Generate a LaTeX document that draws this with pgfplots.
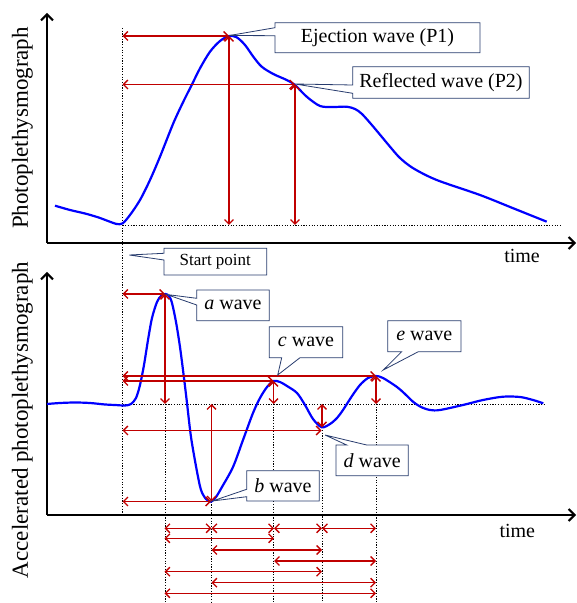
\documentclass[border=0pt]{standalone}
\usepackage{pgfplots}
\pgfplotsset{compat=1.18}
\usepackage{fontspec}
\setmainfont{Liberation Serif}
\usetikzlibrary{arrows.meta}
\definecolor{redarr}{RGB}{192,0,0}
\definecolor{boxblue}{RGB}{40,60,110}
\definecolor{curveblue}{RGB}{0,0,255}
\begin{document}
\begin{tikzpicture}[
  redA/.style={draw=redarr, line width=1.3pt, {Straight Barb[length=4.5pt,width=9pt]}-{Straight Barb[length=4.5pt,width=9pt]}},
  dotl/.style={black, line width=0.9pt, dash pattern=on 1.2pt off 1.5pt},
  callout/.style={draw=boxblue, fill=white, line width=0.8pt},
  btext/.style={font=\fontsize{20}{24}\selectfont, inner sep=0pt},
  ]
\useasboundingbox (0,0) rectangle (577pt,603pt);

% ---------------- top panel ----------------
\begin{axis}[
  at={(47pt,360pt)}, anchor=south west,
  x=1pt, y=1pt, xmin=47, xmax=576, ymin=360, ymax=590,
  axis lines=left, enlargelimits=false,
  xtick=\empty, ytick=\empty, clip=false,
  axis line style={line width=2pt},
  x axis line style={-{Straight Barb[length=6pt,width=12pt]}},
  y axis line style={-{Straight Barb[length=6pt,width=12pt]}},
  xlabel={time},
  xlabel style={at={(axis description cs:0.898,-0.0565)}, anchor=center, inner sep=0pt, font=\fontsize{20}{24}\selectfont},
  ylabel={Photoplethysmograph},
  ylabel style={at={(axis description cs:-0.0265,0.5)}, anchor=south, inner sep=0pt, font=\fontsize{23}{27}\selectfont},
]
% dotted reference lines
\addplot[dotl] coordinates {(122.5,378) (560,378)};
\addplot[dotl] coordinates {(122.5,575) (122.5,88)};
% PPG curve
\addplot[curveblue, line width=2.2pt, smooth, tension=0.5] coordinates {
(55,397.3) (70,393) (85,389.5) (98,385.7) (108,382) (116.7,379) (122.7,379.7)
(130,388) (140,403) (150,423) (160,446.3) (173.3,479.7) (183.3,501.3) (191.7,518)
(200,534.7) (210,551.3) (220,562) (229,567) (236.7,565.7) (245,558) (253.3,546.3)
(261.7,536.3) (273.3,529) (286.7,523) (295,518) (306.7,506.3) (320,497) (333,496)
(346.7,496.3) (355,494) (362,489) (373.3,476.3) (390,456.3) (400,445) (413.3,434.7)
(436.7,423) (480,408) (513.3,394.7) (546.7,381.3)};
% red arrows
\addplot[redA] coordinates {(122.5,567) (229,567)};
\addplot[redA] coordinates {(229,567) (229,378)};
\addplot[redA] coordinates {(122.5,518.5) (295,518.5)};
\addplot[redA] coordinates {(295,518.5) (295,378)};
% callouts
\draw[callout] (axis cs:275,580.3) -- (axis cs:480,580.3) -- (axis cs:480,550.3) -- (axis cs:275,550.3) -- (axis cs:275,567.3) -- (axis cs:229.5,567.5) -- (axis cs:275,575.3) -- cycle;
\node[btext] at (axis cs:377.5,565.3) {Ejection wave (P1)};
\draw[callout] (axis cs:352.7,536.3) -- (axis cs:529.3,536.3) -- (axis cs:529.3,504.7) -- (axis cs:352.7,504.7) -- (axis cs:352.7,509.7) -- (axis cs:295,519) -- (axis cs:352.7,518) -- cycle;
\node[btext] at (axis cs:441,520.5) {Reflected wave (P2)};
\draw[callout] (axis cs:164,354.7) -- (axis cs:266.7,354.7) -- (axis cs:266.7,328) -- (axis cs:164,328) -- (axis cs:164,343) -- (axis cs:129.3,348) -- (axis cs:164,349.7) -- cycle;
\node[font=\fontsize{17}{20}\selectfont, inner sep=0pt] at (axis cs:215.3,341.3) {Start point};
\end{axis}

% ---------------- bottom panel ----------------
\begin{axis}[
  at={(47pt,88pt)}, anchor=south west,
  x=1pt, y=1pt, xmin=47, xmax=576, ymin=88, ymax=331,
  axis lines=left, enlargelimits=false,
  xtick=\empty, ytick=\empty, clip=false,
  axis line style={line width=2pt},
  x axis line style={-{Straight Barb[length=6pt,width=12pt]}},
  y axis line style={-{Straight Barb[length=6pt,width=12pt]}},
  xlabel={time},
  xlabel style={at={(axis description cs:0.889,-0.0638)}, anchor=center, inner sep=0pt, font=\fontsize{20}{24}\selectfont},
  ylabel={Accelerated photoplethysmograph},
  ylabel style={at={(axis description cs:-0.0265,0.391)}, anchor=south, inner sep=0pt, font=\fontsize{23}{27}\selectfont},
]
% dotted reference lines
\addplot[dotl] coordinates {(122.5,199) (545,199)};
\addplot[dotl] coordinates {(165,199) (165,0)};
\addplot[dotl] coordinates {(211.5,101.3) (211.5,0)};
\addplot[dotl] coordinates {(273.5,199) (273.5,0)};
\addplot[dotl] coordinates {(322,175.7) (322,0)};
\addplot[dotl] coordinates {(376,199) (376,0)};
% APG curve
\addplot[curveblue, line width=2.2pt, smooth, tension=0.5] coordinates {
(47,199) (60,200) (75,200.5) (90,200) (105,198.5) (115,198) (125,197.5) (131,199)
(136,205) (140,218) (144,238) (148,263) (152,285) (157,301) (161,307) (165.3,309)
(169,307) (172,300) (176,281) (180,256) (184,225) (187,200) (191,166) (196.7,133)
(201,113) (206,104) (211,101.3) (216,106) (222,116) (233,136) (243,163) (253,190)
(260,205) (267,216) (273.5,222) (280,221) (287,217) (297,210) (305,198) (313,184)
(321.7,175.7) (330,179) (337,185) (343,193) (352,207) (360,218) (368,225) (375.7,227)
(383,225) (397,216) (405,209) (413,201.3) (421,196) (430,193) (440,193) (463,198)
(483,203) (503,206.3) (520,206) (533,203) (543.3,199.7)};
% red arrows in the panel
\addplot[redA] coordinates {(122.5,309) (165,309)};
\addplot[redA] coordinates {(165,309) (165,199)};
\addplot[redA] coordinates {(122.5,227) (376,227)};
\addplot[redA] coordinates {(122.5,222) (273.5,222)};
\addplot[redA] coordinates {(122.5,172.5) (321.5,172.5)};
\addplot[redA] coordinates {(122.5,101.5) (211,101.5)};
\addplot[redA] coordinates {(211.5,199) (211.5,101.5)};
\addplot[redA] coordinates {(273.5,222) (273.5,199)};
\addplot[redA] coordinates {(322,199) (322,175.7)};
\addplot[redA] coordinates {(376,227) (376,199)};
% interval arrows below the axis
\addplot[redA] coordinates {(164.5,74.7) (211.5,74.7)};
\addplot[redA] coordinates {(211.5,74.7) (274,74.7)};
\addplot[redA] coordinates {(274,74.7) (322,74.7)};
\addplot[redA] coordinates {(322,74.7) (376,74.7)};
\addplot[redA] coordinates {(164.5,64.7) (274,64.7)};
\addplot[redA] coordinates {(211.5,53) (322,53)};
\addplot[redA] coordinates {(274,42) (376,42)};
\addplot[redA] coordinates {(164.5,31.3) (322,31.3)};
\addplot[redA] coordinates {(211.5,20.3) (376,20.3)};
\addplot[redA] coordinates {(164.5,9.7) (376,9.7)};
% callouts
\draw[callout] (axis cs:196.7,313) -- (axis cs:269.3,313) -- (axis cs:269.3,282.3) -- (axis cs:196.7,282.3) -- (axis cs:196.7,298) -- (axis cs:166.7,308.5) -- (axis cs:196.7,304.7) -- cycle;
\node[btext] at (axis cs:233,297.7) {\textit{a} wave};
\draw[callout] (axis cs:246.7,132.3) -- (axis cs:319.3,132.3) -- (axis cs:319.3,102) -- (axis cs:246.7,102) -- (axis cs:246.7,106.3) -- (axis cs:212.5,102) -- (axis cs:246.7,113.7) -- cycle;
\node[btext] at (axis cs:283,117.2) {\textit{b} wave};
\draw[callout] (axis cs:269.3,276.3) -- (axis cs:342.7,276.3) -- (axis cs:342.7,245.3) -- (axis cs:300,245.3) -- (axis cs:277.7,228) -- (axis cs:281.7,245.3) -- (axis cs:269.3,245.3) -- cycle;
\node[btext] at (axis cs:306,260.8) {\textit{c} wave};
\draw[callout] (axis cs:387.7,282.3) -- (axis cs:461,282.3) -- (axis cs:461,251.3) -- (axis cs:418.3,251.3) -- (axis cs:383.3,233) -- (axis cs:401.7,251.3) -- (axis cs:387.7,251.3) -- cycle;
\node[btext] at (axis cs:424.3,266.8) {\textit{e} wave};
\draw[callout] (axis cs:336,158) -- (axis cs:346.7,158) -- (axis cs:325,168) -- (axis cs:366.7,158) -- (axis cs:408.3,158) -- (axis cs:408.3,127.3) -- (axis cs:336,127.3) -- cycle;
\node[btext] at (axis cs:372.2,142.7) {\textit{d} wave};
\end{axis}
\end{tikzpicture}
\end{document}
